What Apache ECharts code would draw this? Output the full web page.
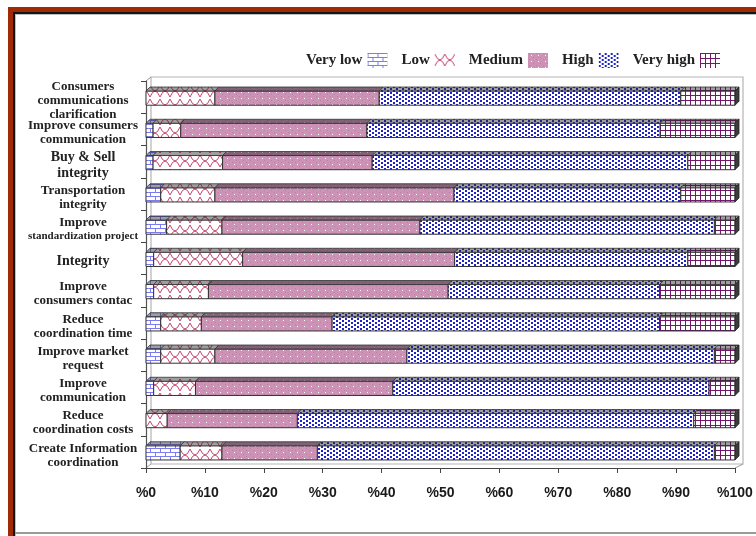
<!DOCTYPE html>
<html>
<head>
<meta charset="utf-8">
<script src="https://cdn.jsdelivr.net/npm/echarts@6/dist/echarts.min.js"></script>
<style>
  html, body { margin: 0; padding: 0; width: 756px; height: 536px; overflow: hidden; background: #fff; }
  #frame { position: absolute; left: 8px; top: 7px; width: 820px; height: 620px; box-sizing: border-box;
           border-left: 5px solid #a02a05; border-top: 5px solid #a02a05; }
  #inner { position: absolute; left: 13px; top: 12px; width: 820px; height: 620px; box-sizing: border-box;
           border-left: 2px solid #151515; border-top: 2px solid #151515; }
  #inner2 { position: absolute; left: 15px; top: 14px; width: 820px; height: 620px; box-sizing: border-box;
           border-left: 1px solid #b8c0c0; border-top: 1px solid #b8c0c0; }
  #bottomline { position: absolute; left: 15px; top: 532px; width: 760px; height: 2px; background: #9a9a9a; }
  #chart { position: absolute; left: 0; top: 0; width: 756px; height: 536px; }
</style>
</head>
<body>
<div id="frame"></div>
<div id="inner"></div>
<div id="inner2"></div>
<div id="bottomline"></div>
<div id="chart"></div>
<script>
// ---- data ----
const categories = [
  'Consumers\ncommunications\nclarification',
  'Improve consumers\ncommunication',
  'Buy & Sell\nintegrity',
  'Transportation\nintegrity',
  'Improve\nstandardization project',
  'Integrity',
  'Improve\nconsumers contac',
  'Reduce\ncoordination time',
  'Improve market\nrequest',
  'Improve\ncommunication',
  'Reduce\ncoordination costs',
  'Create Information\ncoordination'
];
const seriesNames = ['Very low', 'Low', 'Medium', 'High', 'Very high'];
const veryLow  = [0,    1.2,  1.2,  2.5,  3.5,  1.3,  1.3,  2.5,  2.5,  1.3,  0,    5.8];
const low      = [11.7, 4.7,  11.8, 9.2,  9.4,  15.1, 9.3,  6.9,  9.2,  7.1,  3.6,  7.1];
const medium   = [27.9, 31.6, 25.4, 40.6, 33.6, 36.0, 40.7, 22.2, 32.6, 33.5, 22.1, 16.2];
const high     = [51.2, 49.8, 53.6, 38.5, 50.0, 39.6, 35.9, 55.6, 52.2, 53.7, 67.3, 67.4];
const veryHigh = [9.2,  12.7, 8.0,  9.2,  3.5,  8.0,  12.8, 12.8, 3.5,  4.4,  7.0,  3.5];
const xTicks = [0, 10, 20, 30, 40, 50, 60, 70, 80, 90, 100];

// ---- patterns ----
function makePattern(w, h, draw) {
  const c = document.createElement('canvas');
  c.width = w; c.height = h;
  const ctx = c.getContext('2d');
  draw(ctx, w, h);
  return { image: c, repeat: 'repeat' };
}
const patVeryLow = makePattern(10, 8, (ctx, w, h) => {
  ctx.fillStyle = '#fff'; ctx.fillRect(0, 0, w, h);
  ctx.strokeStyle = '#7c7cf0'; ctx.lineWidth = 1;
  ctx.beginPath();
  ctx.moveTo(0, 0.5); ctx.lineTo(w, 0.5);
  ctx.moveTo(0, 4.5); ctx.lineTo(w, 4.5);
  ctx.moveTo(0.5, 0); ctx.lineTo(0.5, 4.5);
  ctx.moveTo(5.5, 4.5); ctx.lineTo(5.5, 8);
  ctx.stroke();
});
const patLow = makePattern(10, 14, (ctx, w, h) => {
  ctx.fillStyle = '#fff'; ctx.fillRect(0, 0, w, h);
  ctx.strokeStyle = '#c2406a'; ctx.lineWidth = 1;
  ctx.beginPath();
  ctx.moveTo(0, 1); ctx.quadraticCurveTo(5, 13, 10, 1);
  ctx.moveTo(0, 13); ctx.quadraticCurveTo(5, 1, 10, 13);
  ctx.stroke();
});
const patMedium = makePattern(7, 6, (ctx, w, h) => {
  ctx.fillStyle = '#cc93b6'; ctx.fillRect(0, 0, w, h);
  ctx.fillStyle = '#bd7ea4'; ctx.fillRect(1, 0, 1, 1); ctx.fillRect(5, 4, 1, 1);
  ctx.fillStyle = '#ffffff'; ctx.fillRect(3, 2, 1, 1);
});
const patHigh = makePattern(6, 4, (ctx, w, h) => {
  ctx.fillStyle = '#fff'; ctx.fillRect(0, 0, w, h);
  ctx.fillStyle = '#1e22c8';
  ctx.fillRect(0, 0, 2, 2); ctx.fillRect(3, 2, 2, 2);
});
const patVeryHigh = makePattern(5, 5, (ctx, w, h) => {
  ctx.fillStyle = '#fff'; ctx.fillRect(0, 0, w, h);
  ctx.fillStyle = '#74186a';
  ctx.fillRect(0, 0, w, 1); ctx.fillRect(0, 0, 1, h);
});
const patterns = [patVeryLow, patLow, patMedium, patHigh, patVeryHigh];
const values = [veryLow, low, medium, high, veryHigh];

// cumulative segments built from the arrays
function buildSegments(k) {
  return categories.map((c, i) => {
    let start = 0;
    for (let j = 0; j < k; j++) start += values[j][i];
    return [i, +start.toFixed(2), +(start + values[k][i]).toFixed(2)];
  });
}

function makeRender(pattern, isLast) {
  return function (params, api) {
    const cat = api.value(0), s = api.value(1), e = api.value(2);
    if (e - s <= 0) return null;
    const p0 = api.coord([s, cat]);
    const p1 = api.coord([e, cat]);
    const band = api.size([0, 1])[1];
    const h = band * 0.44;
    const d = 4;
    const x0 = p0[0], x1 = p1[0];
    const yTop = p0[1] - h * 0.43;
    const yBot = yTop + h;
    const topPts = [[x0, yTop], [x1, yTop], [x1 + d, yTop - d], [x0 + d, yTop - d]];
    const children = [
      { type: 'rect', shape: { x: x0, y: yTop, width: x1 - x0, height: h },
        style: { fill: pattern, stroke: '#333', lineWidth: 1 } },
      { type: 'polygon', shape: { points: topPts }, style: { fill: pattern } },
      { type: 'polygon', shape: { points: topPts },
        style: { fill: 'rgba(40,40,40,0.45)', stroke: '#333', lineWidth: 0.8 } }
    ];
    if (isLast) {
      children.push({ type: 'polygon',
        shape: { points: [[x1, yTop], [x1 + d, yTop - d], [x1 + d, yBot - d], [x1, yBot]] },
        style: { fill: '#3c3c3c', stroke: '#222', lineWidth: 0.8 } });
    }
    return { type: 'group', children: children };
  };
}

const labelFont = 'Liberation Serif';
const chart = echarts.init(document.getElementById('chart'), null, { renderer: 'canvas' });
chart.setOption({
  animation: false,
  backgroundColor: 'transparent',
  legend: {
    right: 31, top: 48,
    align: 'right',
    itemWidth: 20, itemHeight: 15, itemGap: 14,
    textStyle: { fontFamily: labelFont, fontWeight: 'bold', fontSize: 15, color: '#222', padding: [0, 0, 0, 0] },
    data: seriesNames.map((n, k) => ({ name: n, icon: 'rect', itemStyle: { color: patterns[k], borderWidth: 0 } }))
  },
  grid: [
    { left: 146, top: 81, width: 589, height: 387, show: false },
    { left: 151, top: 77, width: 592, height: 387, show: true, borderColor: '#b5b5b5', borderWidth: 1.2, backgroundColor: 'transparent' }
  ],
  xAxis: [
    {
      type: 'value', gridIndex: 0, min: 0, max: 100, interval: 10,
      axisLine: { show: true, lineStyle: { color: '#444', width: 1.2 } },
      axisTick: { show: true, length: 5, lineStyle: { color: '#444' } },
      splitLine: { show: false },
      axisLabel: { formatter: v => '%' + v, fontFamily: 'Liberation Sans', fontWeight: 'bold', fontSize: 14, color: '#1a1a1a', margin: 18 }
    },
    { type: 'value', gridIndex: 1, show: false, min: 0, max: 100 }
  ],
  yAxis: [
    {
      type: 'category', gridIndex: 0, data: categories, inverse: true,
      axisLine: { show: true, lineStyle: { color: '#555', width: 1.2 } },
      axisTick: { show: true, length: 5, lineStyle: { color: '#444' } },
      axisLabel: {
        interval: 0, hideOverlap: false,
        margin: 63, align: 'center', padding: [7, 0, 0, 0],
        fontFamily: labelFont, fontWeight: 'bold', fontSize: 13, lineHeight: 14, color: '#222',
        formatter: function (v) {
          if (v === 'Improve\nstandardization project') return '{a|Improve}\n{s|standardization project}';
          if (v === 'Integrity' || v === 'Buy & Sell\nintegrity') return v.split('\n').map(l => '{b|' + l + '}').join('\n');
          return v;
        },
        rich: {
          a: { fontFamily: labelFont, fontWeight: 'bold', fontSize: 13, lineHeight: 14, color: '#222' },
          s: { fontFamily: labelFont, fontWeight: 'bold', fontSize: 11, lineHeight: 14, color: '#222' },
          b: { fontFamily: labelFont, fontWeight: 'bold', fontSize: 14, lineHeight: 16, color: '#222' }
        }
      }
    },
    { type: 'category', gridIndex: 1, show: false, data: categories }
  ],
  graphic: [
    { type: 'line', shape: { x1: 146, y1: 81, x2: 151, y2: 77 }, style: { stroke: '#999', lineWidth: 1 }, silent: true },
    { type: 'line', shape: { x1: 146, y1: 468, x2: 151, y2: 464 }, style: { stroke: '#999', lineWidth: 1 }, silent: true },
    { type: 'line', shape: { x1: 735, y1: 468, x2: 743, y2: 464 }, style: { stroke: '#999', lineWidth: 1 }, silent: true }
  ],
  series: seriesNames.map((name, k) => ({
    name: name,
    type: 'custom',
    xAxisIndex: 0, yAxisIndex: 0,
    itemStyle: { color: patterns[k] },
    encode: { x: [1, 2], y: 0 },
    renderItem: makeRender(patterns[k], k === 4),
    data: buildSegments(k)
  }))
});
</script>
</body>
</html>
